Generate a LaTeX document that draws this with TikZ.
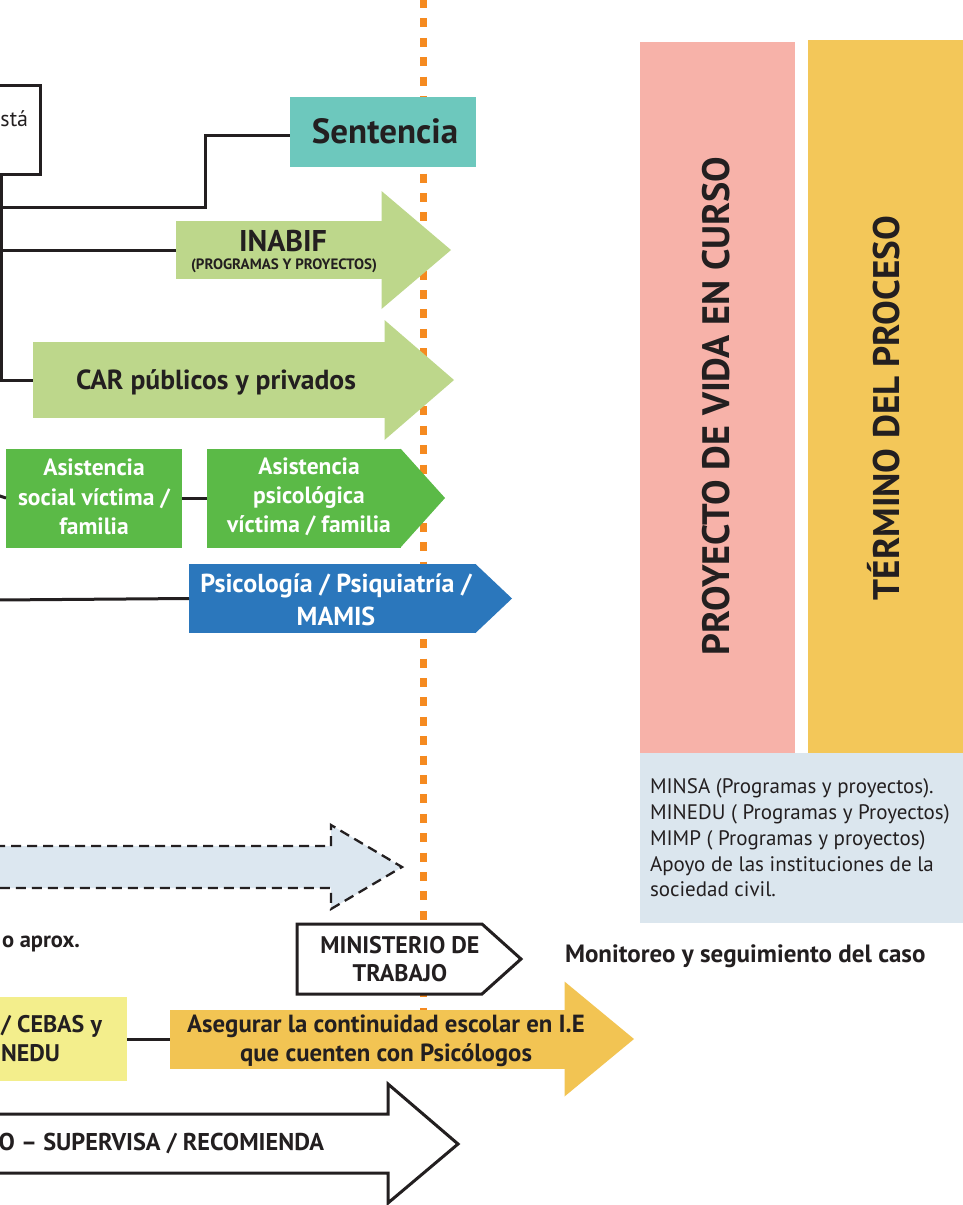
\documentclass[tikz,border=0pt]{standalone}
\usepackage{fontspec}
\setmainfont{PT Sans}
\usetikzlibrary{calc}
\definecolor{ink}{HTML}{231F20}
\definecolor{cteal}{HTML}{6DC8BD}
\definecolor{clgreen}{HTML}{BDD78B}
\definecolor{cgreen}{HTML}{5BBA47}
\definecolor{cblue}{HTML}{2B77BC}
\definecolor{cdash}{HTML}{DCE7F0}
\definecolor{corange}{HTML}{F58A20}
\definecolor{cyelbox}{HTML}{F3EE8C}
\definecolor{cgold}{HTML}{F2C453}
\definecolor{cpink}{HTML}{F7B2A9}
\definecolor{cycol}{HTML}{F3C759}
\definecolor{clist}{HTML}{DBE6EE}
\begin{document}
\begin{tikzpicture}[x=1pt,y=-1pt,
  every node/.style={inner sep=0pt,outer sep=0pt},
  conn/.style={draw=ink,line width=3pt},
  boxnode/.style={anchor=north west,draw=none},
  bt/.style={text=ink,align=center},
  wt/.style={text=white,align=center},
  fb/.style 2 args={font=\bfseries\fontsize{#1}{#2}\selectfont},
  fr/.style 2 args={font=\fontsize{#1}{#2}\selectfont},
  outl/.style={draw=ink,line width=3pt,line join=miter,fill=white}]
\useasboundingbox (0,0) rectangle (963,1205);
\clip (0,0) rectangle (963,1205);
\fill[white] (0,0) rectangle (963,1205);

% orange dotted separator
\draw[corange,line width=7pt,dash pattern=on 9pt off 10.4pt] (423,-1) -- (423,1012);

% right columns
\node[boxnode,fill=cpink,minimum width=155pt,minimum height=711pt] (pink) at (640,42) {};
\node[boxnode,fill=cycol,minimum width=155pt,minimum height=713pt] (gold) at (808,40) {};
\node[boxnode,fill=clist,minimum width=323pt,minimum height=170pt] (list) at (640,753) {};
\node[bt,fb={38.2}{40},rotate=90,text height=26.5pt,text depth=0pt] (pvc) at (716.5,406) {PROYECTO DE VIDA EN CURSO};
\node[bt,fb={37}{40},rotate=90,text height=26pt,text depth=0pt] (tdp) at (886.5,408) {TÉRMINO DEL PROCESO};
\node[text=ink,align=left,fr={21}{25.8},anchor=west] (listtxt) at (650,838) {MINSA (Programas y proyectos).\\MINEDU ( Programas y Proyectos)\\MIMP ( Programas y proyectos)\\Apoyo de las instituciones de la\\sociedad civil.};

% top-left box
\node[draw=ink,line width=3pt,anchor=north east,minimum width=90pt,minimum height=89pt] (topbox) at (40,85) {};
\node[text=ink,fr={22}{25},anchor=base west] (sta) at (0.5,126) {stá};

% Sentencia
\node[boxnode,fill=cteal,minimum width=186pt,minimum height=70pt] (sent) at (290,97) {};
\node[bt,fb={35}{38},anchor=base] (senttxt) at (385,143) {Sentencia};

% INABIF arrow
\node[boxnode,fill=clgreen,minimum width=206pt,minimum height=58pt] (inabif) at (176,221) {};
\fill[clgreen] ($(inabif.north east)+(-0.5,-30)$) -- ($(inabif.east)+(69,0)$) -- ($(inabif.south east)+(-0.5,30)$) -- cycle;
\node[bt,fb={30}{32},anchor=base] (inabiftxt) at (283,251.7) {INABIF};
\node[bt,fb={15}{17},anchor=base] (inabifsub) at (284,269.3) {(PROGRAMAS Y PROYECTOS)};

% CAR arrow
\node[boxnode,fill=clgreen,minimum width=352pt,minimum height=76pt] (car) at (33,342) {};
\fill[clgreen] ($(car.north east)+(-0.5,-22)$) -- ($(car.east)+(69,0)$) -- ($(car.south east)+(-0.5,22)$) -- cycle;
\node[bt,fb={27.6}{30},anchor=base] (cartxt) at (216,389.3) {CAR públicos y privados};

% Asistencia boxes
\node[boxnode,fill=cgreen,minimum width=176pt,minimum height=99pt] (asoc) at (6,448.5) {};
\node[wt,fb={23.5}{29.6}] (asoctxt) at (94,497) {Asistencia\\social víctima /\\familia};
\node[boxnode,fill=cgreen,minimum width=194pt,minimum height=99pt] (apsi) at (207,448.5) {};
\fill[cgreen] ($(apsi.north east)+(-0.5,0)$) -- ($(apsi.east)+(44,0)$) -- ($(apsi.south east)+(-0.5,0)$) -- cycle;
\node[wt,fb={23.5}{29}] (apsitxt) at (309,496.5) {Asistencia\\psicológica\\víctima / familia};

% Psicologia arrow
\node[boxnode,fill=cblue,minimum width=287pt,minimum height=69pt] (psi) at (189,564) {};
\fill[cblue] ($(psi.north east)+(-0.5,0)$) -- ($(psi.east)+(36,0)$) -- ($(psi.south east)+(-0.5,0)$) -- cycle;
\node[wt,fb={26}{33}] (psitxt) at (336,599.5) {Psicología / Psiquiatría /\\MAMIS};

% connectors on the left
\coordinate (vtop) at (1.5,174);
\coordinate (jsent) at (1.5,207);
\coordinate (l1) at (-3,495);
\coordinate (l2) at (-3,600);
\draw[conn] (vtop) |- (car.west);
\draw[conn] (jsent) -| ($(sent.west)+(-85,3)$) -- ($(sent.west)+(0,3)$);
\draw[conn] (vtop |- inabif.west) -- (inabif.west);
\draw[conn] (l1) -- (asoc.west);
\draw[conn] (asoc.east) -- (apsi.west);
\draw[conn] (l2) -- (psi.west);

% dashed arrow
\coordinate (da0) at (-5,846);
\draw[draw=ink,fill=cdash,line width=2.3pt,dash pattern=on 10pt off 6pt]
  (da0) -- (331,846) -- (331,825) -- (402,867) -- (331,909) -- (331,888) -- (-5,888);
\node[bt,fb={22.5}{28},anchor=base west] (aprox) at (2,947) {o aprox.};

% Ministerio de trabajo
\node[boxnode,minimum width=185pt,minimum height=70pt] (min) at (297,924) {};
\draw[outl] (min.north west) -- (min.north east) -- ($(min.east)+(39,0)$) -- (min.south east) -- (min.south west) -- cycle;
\node[bt,fb={24}{28.4}] (mintxt) at (400,959) {MINISTERIO DE\\TRABAJO};
\node[bt,fb={25}{28},anchor=base west] (mon) at (565,962) {Monitoreo y seguimiento del caso};

% CEBAS box and orange arrow
\node[fill=cyelbox,anchor=north east,minimum width=150pt,minimum height=84pt] (cebas) at (127,997) {};
\node[bt,fb={24}{28},anchor=base east] (cebas1) at (102,1032.5) {/ CEBAS y};
\node[bt,fb={24}{28},anchor=base east] (cebas2) at (60,1061.5) {NEDU};
\node[boxnode,fill=cgold,minimum width=395pt,minimum height=59pt] (aseg) at (170,1009.5) {};
\fill[cgold] ($(aseg.north east)+(-0.5,-28)$) -- ($(aseg.east)+(69,0)$) -- ($(aseg.south east)+(-0.5,28)$) -- cycle;
\node[bt,fb={24.8}{29}] (asegtxt) at (386,1041) {Asegurar la continuidad escolar en I.E\\que cuenten con Psicólogos};
\draw[conn] (cebas.east) -- (aseg.west);

% white arrow
\coordinate (wa0) at (-5,1114);
\draw[outl] (wa0) -- (388,1114) -- (388,1084) -- (458,1144) -- (388,1203) -- (388,1173) -- (-5,1173);
\node[bt,fb={24.3}{28},anchor=base east] (sup) at (324,1150) {O – SUPERVISA / RECOMIENDA};
\end{tikzpicture}
\end{document}
